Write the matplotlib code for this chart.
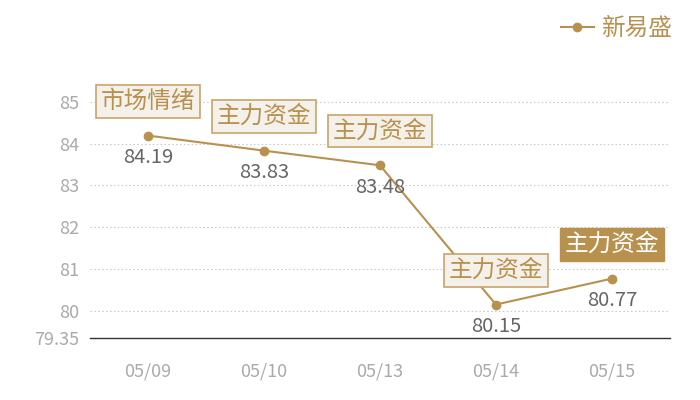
import matplotlib
matplotlib.use("Agg")
import matplotlib.pyplot as plt
from matplotlib.lines import Line2D

plt.rcParams['font.family'] = ['Noto Sans CJK SC', 'DejaVu Sans']

dates = ['05/09', '05/10', '05/13', '05/14', '05/15']
values = [84.19, 83.83, 83.48, 80.15, 80.77]
tags = ['市场情绪', '主力资金', '主力资金', '主力资金', '主力资金']
highlight = [False, False, False, False, True]
series_name = '新易盛'
yticks = [79.35, 80, 81, 82, 83, 84, 85]

gold = '#b8914f'

fig = plt.figure(figsize=(7, 4), dpi=100)
ax = fig.add_axes([0.1286, 0.155, 0.8284, 0.643])

x = list(range(len(dates)))
ax.plot(x, values, color=gold, lw=1.5, marker='o', ms=6, zorder=3)

for xi, v, t, h in zip(x, values, tags, highlight):
    ax.annotate(f'{v:.2f}', (xi, v), xytext=(0, -16), textcoords='offset points',
                ha='center', va='center', fontsize=14.5, color='#666666')
    if h:
        box = dict(boxstyle='square,pad=0.2', fc=gold, ec=gold, lw=1)
        tc = 'white'
    else:
        box = dict(boxstyle='square,pad=0.2', fc='#f4f0ea', ec='#c9a46a', lw=1.2)
        tc = gold
    ax.annotate(t, (xi, v), xytext=(0, 24.5), textcoords='offset points',
                ha='center', va='center', fontsize=17, color=tc, bbox=box, zorder=5)

ax.set_xlim(-0.5, len(dates) - 0.5)
ax.set_ylim(79.35, 85.5)
ax.set_xticks(x)
ax.set_xticklabels(dates)
ax.set_yticks(yticks)
ax.set_yticklabels(['79.35', '80', '81', '82', '83', '84', '85'])
ax.tick_params(axis='both', length=0, labelsize=13, labelcolor='#aaaaaa')
ax.tick_params(axis='x', pad=18)
ax.tick_params(axis='y', pad=8)

for yv in yticks[1:]:
    ax.axhline(yv, color='#cccccc', lw=0.8, ls=(0, (1.5, 2)), zorder=1)

for s in ['top', 'right', 'left']:
    ax.spines[s].set_visible(False)
ax.spines['bottom'].set_color('#333333')
ax.spines['bottom'].set_linewidth(1)

handle = Line2D([], [], color=gold, lw=1.5, marker='o', ms=6)
fig.legend([handle], [series_name], loc='upper right', bbox_to_anchor=(0.99, 1.01),
           frameon=False, fontsize=17, labelcolor=gold, handlelength=1.4,
           handletextpad=0.3)

fig.savefig('out.png', dpi=100)
